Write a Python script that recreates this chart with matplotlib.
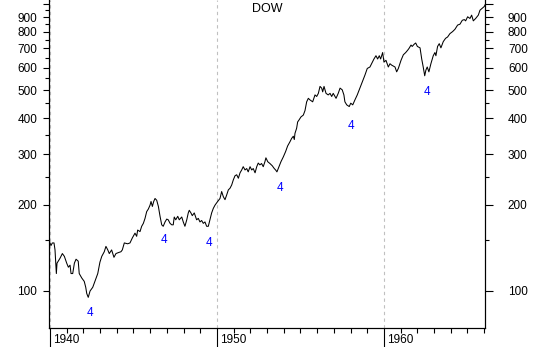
import matplotlib
matplotlib.use('Agg')
import matplotlib.pyplot as plt
import matplotlib.transforms as mtransforms
from matplotlib.ticker import FixedLocator, FixedFormatter, NullFormatter

plt.rcParams['font.family'] = ['Liberation Sans', 'DejaVu Sans']

# Dow Jones Industrial Average
years = [1940.00, 1940.06, 1940.14, 1940.24, 1940.30, 1940.38, 1940.42, 1940.60, 1940.74, 1940.86,
         1941.00, 1941.10, 1941.20, 1941.26, 1941.36, 1941.46, 1941.56, 1941.69, 1941.75, 1941.90,
         1942.05, 1942.14, 1942.20, 1942.29, 1942.40, 1942.56, 1942.69, 1942.86, 1942.99, 1943.10,
         1943.25, 1943.35, 1943.46, 1943.55, 1943.69, 1943.83, 1943.95, 1944.09, 1944.25, 1944.33,
         1944.45, 1944.65, 1944.79, 1944.93, 1945.09, 1945.19, 1945.25, 1945.39, 1945.49, 1945.59,
         1945.69, 1945.79, 1945.89, 1945.99, 1946.05, 1946.13, 1946.21, 1946.29, 1946.39, 1946.49,
         1946.59, 1946.69, 1946.78, 1946.89, 1946.99, 1947.08, 1947.19, 1947.29, 1947.38, 1947.44,
         1947.53, 1947.65, 1947.74, 1947.89, 1947.98, 1948.08, 1948.19, 1948.28, 1948.34, 1948.44,
         1948.52, 1948.64, 1948.78, 1948.88, 1948.98, 1949.08, 1949.18, 1949.28, 1949.38, 1949.48,
         1949.58, 1949.68, 1949.78, 1949.88, 1950.04, 1950.18, 1950.28, 1950.38, 1950.48, 1950.58,
         1950.68, 1950.78, 1950.88, 1950.98, 1951.08, 1951.18, 1951.28, 1951.38, 1951.48, 1951.57,
         1951.68, 1951.78, 1951.87, 1951.98, 1952.08, 1952.17, 1952.28, 1952.38, 1952.47, 1952.57,
         1952.67, 1952.77, 1952.87, 1952.93, 1953.04, 1953.17, 1953.31, 1953.43, 1953.51, 1953.59,
         1953.71, 1953.83, 1953.97, 1954.11, 1954.23, 1954.37, 1954.47, 1954.57, 1954.63, 1954.67,
         1954.77, 1954.83, 1954.91, 1955.03, 1955.17, 1955.27, 1955.37, 1955.47, 1955.57, 1955.73,
         1955.87, 1955.97, 1956.07, 1956.17, 1956.27, 1956.33, 1956.41, 1956.53, 1956.66, 1956.77,
         1956.87, 1956.96, 1957.13, 1957.26, 1957.37, 1957.50, 1957.60, 1957.66, 1957.77, 1957.92,
         1958.01, 1958.13, 1958.26, 1958.40, 1958.56, 1958.70, 1958.86, 1959.00, 1959.16, 1959.26,
         1959.40, 1959.52, 1959.62, 1959.72, 1959.80, 1959.92, 1960.00, 1960.12, 1960.26, 1960.36,
         1960.46, 1960.66, 1960.76, 1960.86, 1961.02, 1961.16, 1961.30, 1961.42, 1961.50, 1961.62,
         1961.69, 1961.81, 1961.90, 1962.00, 1962.16, 1962.26, 1962.35, 1962.44, 1962.51, 1962.59,
         1962.69, 1962.81, 1962.95, 1963.05, 1963.11, 1963.21, 1963.31, 1963.41, 1963.55, 1963.69,
         1963.81, 1963.95, 1964.11, 1964.25, 1964.41, 1964.55, 1964.69, 1964.81, 1964.89, 1965.01,
         1965.15, 1965.25, 1965.35, 1965.49, 1965.65, 1965.75, 1965.89, 1966.01, 1966.05]
dow = [147, 144, 147, 147, 139, 115, 125, 130, 135, 132,
       125, 121, 123, 115, 115, 125, 129, 127, 115, 111,
       108, 103, 98, 95, 100, 103, 108, 115, 126, 132,
       137, 143, 139, 135, 139, 131, 135, 136, 137, 139,
       147, 146, 147, 153, 159, 155, 163, 161, 168, 172,
       179, 189, 193, 199, 205, 197, 205, 210, 207, 197,
       182, 170, 168, 174, 178, 177, 172, 170, 170, 181,
       177, 182, 177, 181, 174, 168, 177, 187, 191, 187,
       183, 187, 177, 179, 174, 176, 172, 174, 168, 168,
       177, 187, 194, 199, 205, 210, 222, 213, 208, 216,
       225, 228, 234, 244, 252, 254, 247, 258, 264, 271,
       264, 267, 260, 271, 264, 267, 258, 271, 279, 275,
       278, 271, 282, 291, 282, 278, 273, 267, 264, 260,
       271, 282, 293, 306, 320, 331, 340, 346, 337, 354,
       369, 388, 394, 404, 410, 425, 456, 469, 463, 456,
       482, 476, 488, 516, 509, 494, 516, 488, 482, 488,
       476, 488, 469, 488, 509, 502, 482, 456, 445, 439,
       451, 445, 463, 482, 509, 534, 565, 596, 603, 619,
       643, 660, 643, 660, 643, 677, 627, 636, 603, 619,
       612, 603, 580, 596, 636, 665, 677, 690, 700, 719,
       711, 724, 731, 711, 703, 643, 603, 562, 588, 603,
       580, 619, 660, 677, 660, 711, 727, 703, 739, 759,
       767, 788, 801, 816, 844, 850, 877, 882, 873, 902,
       890, 914, 873, 890, 914, 951, 966, 980, 992]

wave_years = [1942.4, 1946.83, 1949.54, 1953.77, 1958.02, 1962.6]
wave_levels = [84, 151, 147, 229, 376, 492]
wave_labels = ['4', '4', '4', '4', '4', '4']

decade_years = [1940, 1950, 1960]
decade_labels = ['1940', '1950', '1960']
minor_years = [y for y in range(1941, 1967) if y % 10 != 0]

ytick_major = [100, 200, 300, 400, 500, 600, 700, 800, 900, 1000]
ytick_labels = ['100', '200', '300', '400', '500', '600', '700', '800', '900', '']
ytick_minor = [150, 250, 350, 450, 550, 650, 750, 850, 950]

fig = plt.figure(figsize=(5.34, 3.47), dpi=100)
ax = fig.add_axes([49 / 534, 19 / 347, 436 / 534, 328 / 347])

for yr in decade_years:
    ax.axvline(yr, color='#c0c0c0', lw=0.8, ls=(0, (3, 3)), zorder=1)

ax.plot(years, dow, color='black', lw=0.75, zorder=3)

ax.set_yscale('log')
ax.set_xlim(1939.94, 1966.05)
ax.set_ylim(74.3, 1032)

for s in ['left', 'right', 'bottom']:
    ax.spines[s].set_linewidth(0.8)
ax.spines['top'].set_visible(False)

# y axis, left side
ax.yaxis.set_major_locator(FixedLocator(ytick_major))
ax.yaxis.set_major_formatter(FixedFormatter(ytick_labels))
ax.yaxis.set_minor_locator(FixedLocator(ytick_minor))
ax.yaxis.set_minor_formatter(NullFormatter())
ax.tick_params(axis='y', which='major', length=4.5, width=0.8, pad=4, labelsize=8.5)
ax.tick_params(axis='y', which='minor', length=3, width=0.8)

# y axis, right side
ax2 = ax.twinx()
ax2.set_yscale('log')
ax2.set_ylim(ax.get_ylim())
ax2.spines['top'].set_visible(False)
ax2.spines['right'].set_linewidth(0.8)
ax2.yaxis.set_major_locator(FixedLocator(ytick_major))
ax2.yaxis.set_major_formatter(FixedFormatter(ytick_labels))
ax2.yaxis.set_minor_locator(FixedLocator(ytick_minor))
ax2.yaxis.set_minor_formatter(NullFormatter())
ax2.tick_params(axis='y', which='major', length=5.5, width=0.8, pad=11, labelsize=8.5)
ax2.tick_params(axis='y', which='minor', length=3, width=0.8)

# x axis
ax.xaxis.set_major_locator(FixedLocator(decade_years))
ax.xaxis.set_major_formatter(FixedFormatter(decade_labels))
ax.xaxis.set_minor_locator(FixedLocator(minor_years))
ax.tick_params(axis='x', which='major', length=14, width=0.8, pad=-9.5, labelsize=8.5)
ax.tick_params(axis='x', which='minor', length=3.6, width=0.8)
offset = mtransforms.ScaledTranslation(0.03, 0, fig.dpi_scale_trans)
for lab in ax.get_xticklabels():
    lab.set_ha('left')
    lab.set_transform(lab.get_transform() + offset)

ax.text(0.5, 0.972, 'DOW', transform=ax.transAxes, ha='center', va='center', fontsize=9)

for x, y, t in zip(wave_years, wave_levels, wave_labels):
    ax.text(x, y, t, color='#0000ff', ha='center', va='center', fontsize=8.5)

fig.savefig('out.png', dpi=100)
